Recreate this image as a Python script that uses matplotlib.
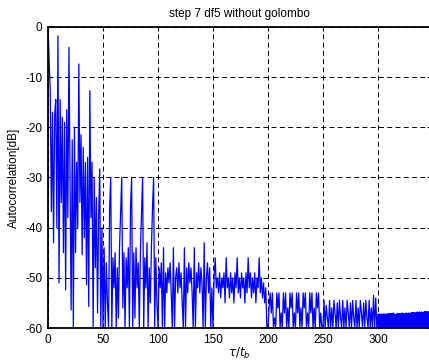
import numpy as np
import matplotlib
matplotlib.use('Agg')
import matplotlib.pyplot as plt

# autocorrelation (dB), one sample per unit of tau/t_b
acf_000_049 = [0, -6.5, -13, -36.8, -17, -43, -17.5, -14.5, -40, -1.8,
               -51, -14.5, -35, -18, -45, -19, -52.4, -16.5, -38, -4.1,
               -30, -56.4, -22.5, -60, -20, -45, -27, -40, -7.4, -35,
               -21.5, -45.4, -24, -42, -27, -51.4, -26, -55.7, -12.7, -38,
               -27, -60, -30, -48, -34, -57, -38, -28.3, -60, -40]
acf_050_099 = [-60, -44, -60, -47, -55, -60, -36, -30, -60, -46,
               -52, -45, -60, -48, -58, -44, -37, -30, -56, -45,
               -60, -46, -52, -44, -60, -36, -30, -60, -45, -58,
               -44, -52, -47, -60, -45, -37, -30, -60, -46, -52,
               -43, -60, -48, -55, -44, -36, -30, -60, -46, -55]
acf_100_149 = [-60, -48, -52, -47, -60, -44, -60, -49, -53, -48,
               -51, -47, -53, -60, -44, -60, -50, -48, -53, -47,
               -52, -49, -55, -60, -44, -60, -48, -53, -47, -51,
               -48, -53, -60, -44, -60, -49, -52, -47, -53, -48,
               -51, -60, -43, -60, -50, -47, -53, -48, -60, -52]
acf_150_199 = [-60, -50, -46, -52, -50, -53, -49, -54, -50, -52,
               -49, -55, -46, -52, -50, -54, -49, -53, -50, -55,
               -49, -52, -46, -53, -50, -54, -49, -52, -50, -55,
               -49, -53, -46, -52, -49, -54, -50, -53, -49, -55,
               -50, -52, -46, -53, -50, -54, -51, -55, -52, -60]
acf_200_249 = [-60, -56, -53, -57, -53, -60, -58, -60, -53, -56,
               -53, -60, -57, -60, -53, -57, -53, -60, -56, -60,
               -53, -56, -53, -60, -57, -60, -53, -57, -53, -60,
               -56, -60, -53, -56, -53, -60, -57, -60, -53, -57,
               -53, -60, -56, -60, -53, -56, -53, -60, -57, -60]
acf_250_299 = [-60, -54.5, -60, -55.5, -58, -60, -54.5, -60, -56, -60,
               -54.5, -57, -60, -55, -60, -54.5, -58, -60, -54.5, -60,
               -56, -60, -54.5, -57, -60, -55, -60, -54.5, -58, -60,
               -54.5, -60, -56, -60, -54.5, -57, -60, -55, -60, -54.5,
               -58, -60, -54.5, -60, -56, -60, -53.5, -60, -54, -60]
# tail is sampled twice as finely (every 0.5)
acf_300_348 = [-57.2, -60, -57.2, -60, -57.3, -60, -57.2, -60, -57.3, -60,
               -57.2, -60, -57.2, -60, -57.3, -60, -57.2, -60, -57.2, -60,
               -57.1, -60, -57.2, -60, -57.1, -60, -57.2, -60, -57.0, -60,
               -57.2, -60, -57.3, -60, -57.2, -60, -57.1, -60, -57.2, -60,
               -57.1, -60, -57.2, -60, -57.0, -60, -57.1, -60, -57.2, -60,
               -57.1, -60, -57.0, -60, -57.1, -60, -57.0, -60, -57.1, -60,
               -57.0, -60, -56.9, -60, -57.0, -60, -56.9, -60, -57.0, -60,
               -56.9, -60, -56.8, -60, -56.9, -60, -56.8, -60, -56.9, -60,
               -56.8, -60, -56.9, -60, -56.8, -60, -56.7, -60, -56.8, -60,
               -56.7, -60, -56.8, -60, -56.7, -60, -56.8]

acf_head = np.concatenate([acf_000_049, acf_050_099, acf_100_149, acf_150_199,
                           acf_200_249, acf_250_299])
tau_head = np.arange(len(acf_head))
tau_tail = 300 + 0.5 * np.arange(len(acf_300_348))
tau = np.concatenate([tau_head, tau_tail])
acf_db = np.concatenate([acf_head, acf_300_348])

x_ticks = [0, 50, 100, 150, 200, 250, 300]
y_ticks = [-60, -50, -40, -30, -20, -10, 0]

plt.rcParams['font.family'] = ['Liberation Sans', 'DejaVu Sans']
plt.rcParams['axes.unicode_minus'] = False

fig = plt.figure(figsize=(4.29, 3.63), dpi=100)
ax = fig.add_axes([0.112, 0.0964, 0.892, 0.8296])

ax.plot(tau, acf_db, color='#0000ff', linewidth=0.9)

ax.set_xlim(0, 348)
ax.set_ylim(-60, 0)
ax.set_xticks(x_ticks)
ax.set_yticks(y_ticks)
ax.tick_params(direction='in', length=3, labelsize=8.5, top=True, right=True, pad=4)
ax.grid(True, color='black', linestyle=(0, (5, 3.5)), linewidth=0.7)
for sp in ax.spines.values():
    sp.set_linewidth(1.3)

ax.set_title('step 7 df5 without golombo', fontsize=8.5, pad=7)
ax.set_ylabel('Autocorrelation[dB]', fontsize=8.5, labelpad=4)
ax.set_xlabel(r'$\tau/t_b$', fontsize=8.5, labelpad=0)

fig.savefig('out.png', dpi=100)
